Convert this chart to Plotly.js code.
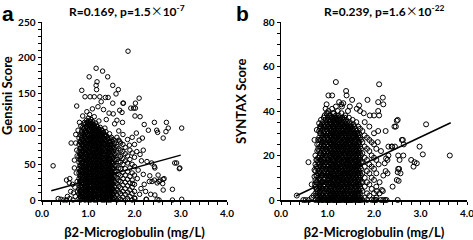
<!DOCTYPE html>
<html>
<head>
<meta charset="utf-8">
<script src="https://cdn.plot.ly/plotly-3.0.1.min.js"></script>
<style>html,body{margin:0;padding:0;background:#fff;}#chart{width:473px;height:240px;}</style>
</head>
<body>
<div id="chart"></div>
<script>
// ---- Panel a: Gensini score vs beta2-microglobulin ----
const gensiniCore = [
[0.80,[2,9,15,23,30,38,44,53,61,68,78,87]],
[0.82,[5,12,19,26,34,41,48,57,64,72,82]],
[0.83,[0,5,12,19,27,33,41,49,56,64,73,81,91]],
[0.85,[3,9,17,24,31,39,46,53,61,69,77,85,94]],
[0.86,[1,7,14,21,28,36,43,51,58,66,72,80,88,97]],
[0.88,[4,11,18,25,33,40,47,55,63,70,78,85,93,102]],
[0.90,[3,10,16,24,31,38,46,54,61,69,76,84,92,100,106]],
[0.92,[1,7,14,20,28,35,43,50,58,65,73,81,89,97,109]],
[0.93,[0,6,12,18,26,33,40,47,55,62,70,78,86,94,101]],
[0.95,[4,11,17,24,31,38,45,53,60,67,75,83,91,98,107]],
[0.96,[2,8,14,21,29,35,42,50,57,64,71,79,87,95,103,112]],
[0.98,[1,7,14,20,27,34,41,48,55,62,69,77,84,92,100,109]],
[1.00,[0,5,11,17,24,31,38,45,52,59,67,74,82,90,97,106,115]],
[1.02,[2,8,14,20,27,34,40,48,55,62,69,77,84,91,99,104,111]],
[1.03,[3,9,15,22,29,36,43,50,57,64,72,79,86,93,100,108,120]],
[1.05,[0,5,11,18,25,31,38,45,52,60,66,74,81,88,96,103,110]],
[1.06,[1,7,13,19,26,33,40,47,54,61,68,76,83,91,98,105,113]],
[1.08,[2,9,14,21,28,35,42,49,57,63,70,78,86,93,101,107]],
[1.10,[4,10,16,23,30,37,44,51,58,66,73,80,88,95,103,110]],
[1.12,[1,7,13,20,27,34,41,48,56,63,70,77,85,92,99,106]],
[1.13,[0,6,12,18,25,32,39,46,53,60,67,75,82,89,97,104,117]],
[1.15,[3,9,15,22,29,36,43,50,57,65,72,79,87,94,102]],
[1.16,[2,8,15,21,28,35,42,49,56,63,71,78,85,92,100,108]],
[1.18,[0,5,12,18,25,32,39,46,53,61,68,75,83,90,97,104]],
[1.20,[5,11,17,24,31,38,45,52,59,66,74,81,88,96,103]],
[1.22,[2,8,15,21,29,35,43,49,57,63,71,78,86,93,100]],
[1.23,[1,7,13,20,27,34,41,48,55,62,69,77,84,91,99,111]],
[1.25,[4,10,17,24,31,38,45,52,60,67,74,81,89,96]],
[1.26,[3,9,16,22,29,36,43,50,57,65,72,79,87,94,102]],
[1.28,[1,6,13,20,27,34,41,48,55,62,70,77,84,92,99]],
[1.30,[0,6,12,19,26,33,40,47,54,61,68,75,83,90,98]],
[1.32,[3,9,16,23,29,37,44,51,58,64,72,79,86,94]],
[1.33,[4,10,17,24,31,38,45,52,59,66,73,81,88,95]],
[1.35,[0,7,13,20,27,34,41,48,56,63,70,77,84,91]],
[1.36,[1,8,14,21,28,35,42,49,56,63,70,78,85,92,101]],
[1.38,[4,11,18,25,32,39,46,53,60,67,74,81,89,96]],
[1.40,[3,10,17,24,31,38,46,53,60,68,75,83,90]],
[1.42,[1,8,14,21,28,35,43,50,57,64,72,79,87]],
[1.43,[0,6,13,20,27,34,41,48,55,62,70,77,86]],
[1.45,[3,10,17,24,31,38,45,52,59,67,74,82]],
[1.46,[2,9,16,23,30,37,44,51,58,66,73,81,93]],
[1.48,[0,6,13,20,27,34,41,48,56,63,70,78,86]],
[1.50,[5,12,19,26,33,40,47,54,62,70,78,88]],
[1.52,[2,9,16,23,30,37,44,51,58,66,74,82]],
[1.54,[1,8,15,22,29,36,44,52,60,68,76,85]],
[1.56,[4,12,19,26,33,40,48,56,64,72,80]],
[1.58,[3,11,18,25,33,41,49,57,65,74,83]],
[1.62,[0,7,14,23,31,40,48,57,66,75,88]],
[1.66,[3,11,19,27,36,45,54,63,72,84,97]],
[1.70,[1,9,17,26,34,44,53,61,70,80]],
[1.75,[4,12,21,30,39,50,58,68,78,92]],
[1.80,[0,8,16,25,35,44,55,65,74]],
[1.85,[2,11,20,29,40,52,62,85]],
[1.90,[5,14,24,33,45,57,70]],
[1.95,[0,9,18,28,38,50,66,88]],
[2.00,[3,12,22,35,47,60,78]]
];
const gensiniSparse = [
[1.86,209],[1.17,185],[1.31,181],[1.02,173],[1.42,173],[1.19,166],[1.17,161],[1.53,161],
[0.86,154],[1.18,155],[1.65,155],[1.60,149],[1.43,144],[2.10,143],[0.75,132],[1.75,136],
[2.02,136],[0.93,145],[1.04,145],[1.13,145],[1.25,145],[1.37,144],[1.68,126],[1.92,129],
[2.02,129],[1.73,123],[2.01,118],[2.12,117],[1.53,136],[1.76,136],[1.98,129],[1.54,121],
[1.74,109],[1.21,131],[1.09,128],[0.97,124],[1.33,127],[1.45,122],[0.88,118],[1.28,138],
[1.39,113],[1.57,107],[0.84,104],[1.62,112],
[3.02,101],[2.73,101],[2.68,96],[2.48,98],[2.50,95],[2.43,109],[2.21,106],[2.04,94],
[2.17,87],[2.62,87],[2.12,64],[2.37,52],[2.44,45],[2.98,45],[2.91,52],[2.51,35],[2.62,29],
[2.61,23],[2.53,26],[2.43,28],[2.32,26],[2.82,15],[2.62,14],[2.44,7],[2.82,0],[2.53,0],
[2.25,1],[2.69,109],[2.30,98],[2.10,84],[1.68,82],[1.89,77],[2.05,68],[2.19,70],[2.27,54],
[2.43,47],[2.87,52],[2.97,44],[2.19,36],[2.33,34],[2.55,28],[2.64,30],[2.38,26],[2.49,24],
[1.96,23],[2.21,22],[2.14,16],[2.01,2],[2.26,1],[2.49,1],[3.02,1],[2.08,42],[2.15,55],
[2.06,30],[2.24,12],[2.35,8],[2.11,8],
[0.24,48],[0.35,2],[0.53,28],[0.60,30],[0.59,24],[0.71,18],[0.55,5],[0.73,92],[0.63,80],
[0.73,80],[0.81,109],[0.70,56],[0.53,0],[0.60,2],[0.66,22],[0.74,38],[0.77,12],[0.72,5],
[0.67,0],[0.76,62],[0.70,45],[0.76,26],[0.68,10],[0.62,12],[0.75,70],[0.78,98],[0.47,0],[0.41,1]
];
const gensiniFitX = [0.2, 3.0];
const gensiniFitY = [13, 63];

// ---- Panel b: SYNTAX score vs beta2-microglobulin ----
const syntaxCore = [
[0.74,[0,3,6,9,13,16,20]],
[0.76,[2,5,8,11,15,18]],
[0.78,[1,4,8,11,14,18,22,25]],
[0.80,[0,3,6,9,12,15,19,23,27]],
[0.82,[0,2,5,7,10,13,16,19,22,25,28,31]],
[0.84,[1,4,6,9,12,15,18,21,24,27,30,33]],
[0.86,[1,3,6,9,12,15,18,21,24,27,30,33,36]],
[0.88,[0,2,5,8,11,13,16,19,22,25,28,31,34]],
[0.90,[0,2,5,8,11,14,17,20,23,26,29,32,35]],
[0.92,[1,3,6,9,12,15,18,21,24,27,30,33,37]],
[0.94,[1,4,7,10,13,16,19,22,25,28,31,34,38]],
[0.96,[0,2,5,8,11,14,17,20,23,26,29,33,36]],
[0.98,[0,3,5,8,11,14,17,20,23,26,29,32,35,39]],
[1.00,[1,2,6,9,12,15,18,22,25,28,31,34,37]],
[1.01,[0,4,7,11,14,17,20,24,27,30,33,36,39]],
[1.02,[1,4,7,10,12,15,18,21,24,27,30,33,36,40]],
[1.04,[0,3,6,9,11,14,17,20,23,26,29,32,35,38]],
[1.06,[0,2,5,8,11,14,17,20,23,26,29,32,35,38]],
[1.07,[1,3,6,10,12,16,19,21,25,27,30,34,36]],
[1.08,[1,4,7,10,13,16,19,22,25,28,31,34,37]],
[1.10,[1,3,6,9,12,15,18,21,24,27,30,33,37,41]],
[1.12,[0,2,5,8,11,14,17,20,23,26,29,32,35,39]],
[1.13,[1,3,7,9,12,16,18,21,25,27,31,33,37]],
[1.14,[0,4,7,10,13,16,19,22,25,28,31,34,36,39]],
[1.16,[1,3,6,9,12,15,18,21,24,27,30,33,37]],
[1.18,[2,5,8,11,14,17,20,23,26,29,32,35,38]],
[1.19,[0,3,7,10,13,15,19,21,24,28,30,34,36]],
[1.20,[0,1,4,7,10,13,16,19,22,25,28,31,34,37]],
[1.22,[0,3,6,9,12,15,18,21,24,27,30,33,36,40]],
[1.24,[2,5,8,11,14,17,20,23,26,29,32,35,38]],
[1.25,[0,3,6,9,12,16,18,21,24,27,30,33,36]],
[1.26,[1,4,7,10,13,16,19,22,25,28,31,34,37]],
[1.28,[0,3,6,9,12,15,18,21,24,27,30,33,36]],
[1.30,[0,2,5,8,11,14,17,20,23,26,29,32,35,39]],
[1.31,[1,4,7,9,13,15,19,22,24,28,30,34,37]],
[1.32,[1,4,7,10,13,16,19,22,25,28,31,34,37]],
[1.34,[1,3,6,9,12,15,18,21,24,27,30,33,36]],
[1.36,[0,2,5,8,11,14,17,20,23,26,29,32,35]],
[1.37,[1,3,6,10,12,15,18,21,25,27,30,33,37]],
[1.38,[0,4,7,10,13,16,19,22,25,28,31,34,38]],
[1.40,[1,3,6,9,12,15,18,21,24,27,30,33,36]],
[1.42,[2,5,8,11,14,17,20,23,26,29,32,35]],
[1.43,[0,4,7,9,12,16,18,22,24,27,31,33]],
[1.44,[0,3,6,10,13,16,19,22,25,28,31,34]],
[1.46,[0,3,6,9,12,15,18,21,24,27,30,33,37]],
[1.48,[1,4,8,11,14,17,20,23,26,29,32,35]],
[1.49,[0,2,6,9,12,15,18,21,25,27,30,33]],
[1.50,[1,4,7,10,13,16,19,22,25,28,31,34]],
[1.52,[0,3,6,9,12,15,18,21,24,27,30,33]],
[1.54,[0,2,5,8,11,14,17,20,23,26,29,32,36]],
[1.55,[1,3,7,10,12,16,19,21,24,28,30]],
[1.56,[1,4,7,10,13,16,19,22,25,28,31,34]],
[1.58,[1,3,6,9,12,15,18,21,24,27,30,33]],
[1.60,[0,2,5,8,11,14,17,20,23,26,29,32]],
[1.61,[1,3,6,10,13,15,18,22,24,27,30]],
[1.62,[0,4,7,10,13,16,19,22,25,28,31,35]],
[1.64,[1,3,6,9,12,15,18,21,24,27,30]],
[1.66,[2,5,8,11,14,17,20,23,26,29,33]],
[1.67,[0,3,7,9,12,16,18,21,25,28]],
[1.68,[0,1,4,7,10,13,16,19,22,26,30]],
[1.70,[0,3,6,9,12,15,18,21,24,28,32]],
[1.72,[1,5,8,11,14,17,20,23,27]],
[1.75,[0,4,8,12,17,21,26,31]],
[1.80,[1,6,10,15,19,24,29,35]],
[1.85,[0,3,8,13,18,23,28]],
[1.90,[2,7,12,16,22,27,33]],
[1.95,[0,5,10,15,20,26]],
[2.00,[0,3,9,14,19,25,30]],
[2.05,[1,6,12,18,23]]
];
const syntaxSparse = [
[1.18,53],[2.11,52],[1.02,47],[1.10,47],[1.40,49],[1.41,47],[1.53,45],[1.86,45],[2.19,46],
[2.20,43],[2.09,40],[1.91,38],[2.51,36],[1.30,43],[1.31,42],[1.48,42],[1.68,42.5],[1.70,40],
[1.63,41],[0.96,41],[0.98,43],[1.18,42],[1.34,43.5],[1.25,44],[1.44,40],[1.78,39],
[3.12,34],[2.98,24],[2.60,27],[2.64,25],[3.05,20.5],[3.63,20],[2.80,18],[2.87,17],[2.92,16.5],
[2.85,15],[2.52,20],[2.55,18],[2.52,14],[2.51,12.5],[2.57,12],[2.49,9],[2.40,6],[2.20,11],
[2.25,13],[2.10,16],[2.29,18],[2.31,20],[2.39,24],[2.45,24],[2.09,31],[2.25,31],[2.44,33],
[2.19,4],[2.12,3],[2.51,0],[2.20,0],[2.27,0],[2.24,0],[2.15,0],[2.05,0],[2.49,35.6],[2.47,33],
[2.63,20],[2.62,27],[2.53,8.6],[2.54,14],[2.29,12],[2.23,16.5],[2.17,4.5],[2.06,4],[2.03,0],
[2.11,38],[2.00,38],[2.09,44],[2.31,24],[2.38,24],[2.26,18.7],[2.12,8],[2.15,22],[2.08,26],
[0.34,2],[0.53,0],[0.66,1],[0.77,5],[0.66,7],[0.73,7],[0.72,10.5],[0.72,13.5],[0.80,17],
[0.72,27],[0.77,31.5],[0.82,34.5],[0.84,32],[0.59,17],[0.60,0],[0.70,2],[0.48,0]
];
const syntaxFitX = [0.32, 3.65];
const syntaxFitY = [1.8, 34.7];

function flatten(core, sparse) {
  const xs = [], ys = [];
  core.forEach(c => c[1].forEach(v => { xs.push(c[0]); ys.push(v); }));
  sparse.forEach(p => { xs.push(p[0]); ys.push(p[1]); });
  return {x: xs, y: ys};
}
const gData = flatten(gensiniCore, gensiniSparse);
const sData = flatten(syntaxCore, syntaxSparse);

const FONT = 'Lato, "Open Sans", "DejaVu Sans", sans-serif';
const markerA = {symbol: 'circle-open', size: 4.5, color: '#000000', line: {color: '#000000', width: 1}};
const markerB = {symbol: 'circle-open', size: 5, color: '#000000', line: {color: '#000000', width: 1}};

const traces = [
  {type: 'scatter', mode: 'markers', x: gData.x, y: gData.y, xaxis: 'x', yaxis: 'y', marker: markerA, cliponaxis: false, hoverinfo: 'none'},
  {type: 'scatter', mode: 'lines', x: gensiniFitX, y: gensiniFitY, xaxis: 'x', yaxis: 'y', line: {color: '#000', width: 1.5}, hoverinfo: 'none'},
  {type: 'scatter', mode: 'markers', x: sData.x, y: sData.y, xaxis: 'x2', yaxis: 'y2', marker: markerB, cliponaxis: false, hoverinfo: 'none'},
  {type: 'scatter', mode: 'lines', x: syntaxFitX, y: syntaxFitY, xaxis: 'x2', yaxis: 'y2', line: {color: '#000', width: 1.5}, hoverinfo: 'none'}
];

const tickFont = {family: FONT, size: 10, color: '#000', weight: 'bold'};
const titleFont = {family: FONT, size: 13, color: '#000', weight: 'bold'};
const headFont = {family: FONT, size: 12, color: '#000', weight: 'bold'};

function xAxis(domain, anchor) {
  return {
    domain: domain, anchor: anchor, range: [0, 4], dtick: 1, tick0: 0, tickformat: '.1f',
    showline: true, linecolor: '#000', linewidth: 1.5, ticks: 'outside', ticklen: 3, tickwidth: 1, tickcolor: '#000',
    minor: {dtick: 0.2, ticks: 'outside', ticklen: 3, tickwidth: 1, tickcolor: '#000'},
    showgrid: false, zeroline: false, tickfont: tickFont, ticklabeloverflow: 'allow',
    title: {text: 'β2-Microglobulin (mg/L)', font: titleFont, standoff: 14}
  };
}
function yAxis(domain, anchor, max, dt, mdt) {
  return {
    domain: domain, anchor: anchor, range: [0, max], dtick: dt, tick0: 0,
    showline: true, linecolor: '#000', linewidth: 1.5, ticks: 'outside', ticklen: 3, tickwidth: 1, tickcolor: '#000',
    minor: {dtick: mdt, ticks: 'outside', ticklen: 3, tickwidth: 1, tickcolor: '#000'},
    showgrid: false, zeroline: false, tickfont: tickFont, ticklabeloverflow: 'allow'
  };
}

const layout = {
  width: 473, height: 240,
  margin: {l: 0, r: 0, t: 0, b: 0},
  paper_bgcolor: '#fff', plot_bgcolor: '#fff',
  showlegend: false,
  xaxis: xAxis([42/473, 227/473], 'y'),
  yaxis: yAxis([40/240, 218/240], 'x', 250, 50, 10),
  xaxis2: xAxis([281/473, 467/473], 'y2'),
  yaxis2: yAxis([40/240, 218/240], 'x2', 80, 20, 5),
  annotations: [
    {text: 'Gensini Score', x: 7/473, y: 1 - 96/240, xref: 'paper', yref: 'paper', xanchor: 'center', yanchor: 'middle',
     textangle: -90, showarrow: false, font: titleFont},
    {text: 'SYNTAX Score', x: 241/473, y: 1 - 101/240, xref: 'paper', yref: 'paper', xanchor: 'center', yanchor: 'middle',
     textangle: -90, showarrow: false, font: titleFont},
    {text: 'a', x: 0, y: 1, xref: 'paper', yref: 'paper', xanchor: 'left', yanchor: 'top', showarrow: false,
     font: {family: '"Liberation Sans", Arial, sans-serif', size: 21, color: '#000', weight: 'bold'}},
    {text: 'b', x: 234/473, y: 1, xref: 'paper', yref: 'paper', xanchor: 'left', yanchor: 'top', showarrow: false,
     font: {family: '"Liberation Sans", Arial, sans-serif', size: 21, color: '#000', weight: 'bold'}},
    {text: 'R=0.169, p=1.5<span style="font-family:\'Noto Sans CJK SC\';font-weight:normal">×</span>10<sup>-7</sup>', x: 127/473, y: 1 - 11/240, xref: 'paper', yref: 'paper', xanchor: 'center', yanchor: 'middle', showarrow: false,
     font: headFont},
    {text: 'R=0.239, p=1.6<span style="font-family:\'Noto Sans CJK SC\';font-weight:normal">×</span>10<sup>-22</sup>', x: 384/473, y: 1 - 11/240, xref: 'paper', yref: 'paper', xanchor: 'center', yanchor: 'middle', showarrow: false,
     font: headFont}
  ]
};

Plotly.newPlot('chart', traces, layout, {staticPlot: true, displayModeBar: false});
</script>
</body>
</html>
